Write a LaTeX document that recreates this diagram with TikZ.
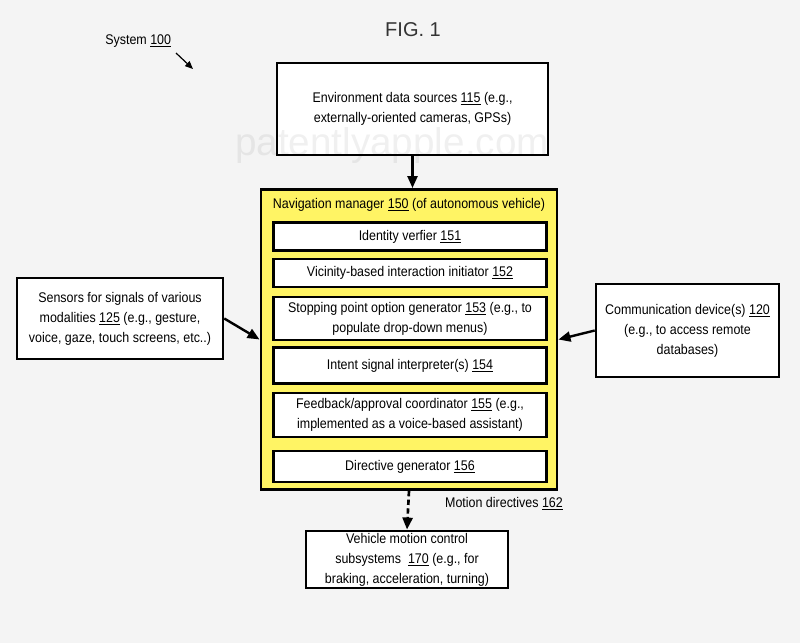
\documentclass[tikz,border=0pt]{standalone}
\usepackage{fontspec}
\setmainfont{Liberation Sans}
\newfontfamily\narrowf[FakeStretch=0.89]{Liberation Sans}
\usetikzlibrary{arrows.meta}
\definecolor{bg}{RGB}{244,244,244}
\definecolor{navyellow}{RGB}{255,244,100}
\newcommand{\refn}[1]{\underline{#1}}
\begin{document}
\begin{tikzpicture}[x=0.75pt,y=-0.75pt,
  txt/.style={font=\narrowf\fontsize{10.5pt}{15pt}\selectfont, align=center, inner sep=0pt},
  box/.style={txt, draw=black, line width=1.9pt, fill=white},
  navbox/.style={draw=black, line width=2.2pt, fill=navyellow, inner sep=0pt},
  arr/.style={-{Triangle[length=9pt,width=7.5pt]}, line width=1.8pt},
  darr/.style={-{Triangle[length=9pt,width=7.5pt]}, line width=2pt, dash pattern=on 4pt off 2.5pt},
  thinarr/.style={-{Triangle[length=6pt,width=5pt]}, line width=0.9pt}
]
\fill[bg] (0,0) rectangle (800,643);
\useasboundingbox (0,0) rectangle (800,643);

\node[inner sep=0pt, font=\fontsize{15pt}{18pt}\selectfont, text=black!80] (fig) at (413,30) {FIG. 1};
\node[txt, anchor=west] (sys) at (105,41) {System \refn{100}};
\coordinate (sysA) at (176,53);
\coordinate (sysB) at (193,69);
\draw[thinarr] (sysA) -- (sysB);

\node[box, minimum width=203.25pt, minimum height=69pt] (env) at (412.5,109)
  {Environment data sources \refn{115} (e.g.,\\externally-oriented cameras, GPSs)};

\node[navbox, minimum width=222pt, minimum height=225pt] (nav) at (409,339.5) {};
\node[txt] (navt) at (409,205) {Navigation manager \refn{150} (of autonomous vehicle)};

\node[box, minimum width=204.75pt, minimum height=21pt] (b151) at (410,236.5) {Identity verfier \refn{151}};
\node[box, minimum width=204.75pt, minimum height=21pt] (b152) at (410,273) {Vicinity-based interaction initiator \refn{152}};
\node[box, minimum width=204.75pt, minimum height=32.25pt] (b153) at (410,318.5) {Stopping point option generator \refn{153} (e.g., to\\populate drop-down menus)};
\node[box, minimum width=204.75pt, minimum height=27pt] (b154) at (410,365.5) {Intent signal interpreter(s) \refn{154}};
\node[box, minimum width=204.75pt, minimum height=33pt] (b155) at (410,415) {Feedback/approval coordinator \refn{155} (e.g.,\\implemented as a voice-based assistant)};
\node[box, minimum width=204.75pt, minimum height=23pt] (b156) at (410,466.5) {Directive generator \refn{156}};

\node[box, minimum width=154.5pt, minimum height=61pt] (sens) at (120,318.5)
  {Sensors for signals of various\\modalities \refn{125} (e.g., gesture,\\voice, gaze, touch screens, etc..)};
\node[box, minimum width=137.25pt, minimum height=69.75pt] (comm) at (687.5,330.5)
  {Communication device(s) \refn{120}\\(e.g., to access remote\\databases)};
\node[box, minimum width=151.5pt, minimum height=43pt] (veh) at (407,559.5)
  {Vehicle motion control\\subsystems\ \ \refn{170} (e.g., for\\braking, acceleration, turning)};

\node[txt] (md) at (504,504) {Motion directives \refn{162}};

\draw[arr] (env.south) -- (env.south |- nav.north);
\draw[arr] (sens.east) -- (nav.west);
\draw[arr] (comm.west) -- (nav.east);
\draw[darr] (nav.south) -- (veh.north);

\node[inner sep=0pt, font=\fontsize{29pt}{32pt}\selectfont, text=black, opacity=0.06] (wm) at (392,145) {patentlyapple.com};
\end{tikzpicture}
\end{document}
